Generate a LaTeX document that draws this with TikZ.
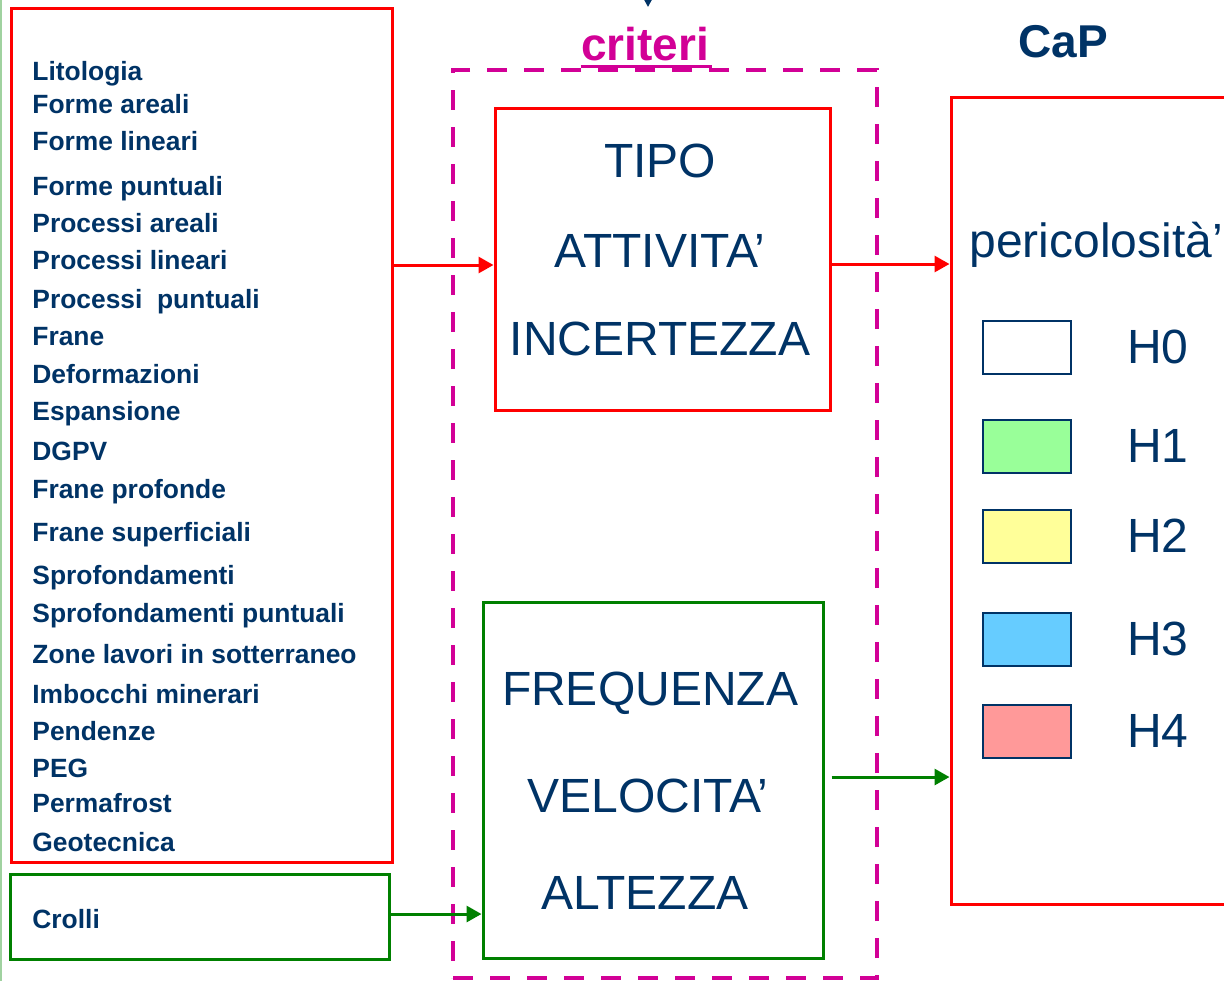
\documentclass[tikz,border=0pt]{standalone}
\usepackage{fontspec}
\setmainfont{Liberation Sans}
\usepackage{xcolor}
\usetikzlibrary{arrows.meta,positioning}

\definecolor{navy}{RGB}{0,51,102}
\definecolor{crit}{RGB}{210,0,150}
\definecolor{boxred}{RGB}{255,0,0}
\definecolor{boxgreen}{RGB}{0,128,0}
\definecolor{edgegreen}{RGB}{160,210,160}
\definecolor{hone}{RGB}{153,255,153}
\definecolor{htwo}{RGB}{255,255,153}
\definecolor{hthree}{RGB}{102,204,255}
\definecolor{hfour}{RGB}{255,153,153}

\begin{document}
\begin{tikzpicture}[
  x=0.5pt,y=-0.5pt,
  box/.style={draw,line width=1.5pt,inner sep=0pt},
  item/.style={anchor=base west,inner sep=0pt,text=navy,
    font=\fontsize{13.2}{15}\selectfont\bfseries},
  big/.style={anchor=base,inner sep=0pt,text=navy,
    font=\fontsize{24}{28}\selectfont},
  heading/.style={anchor=base,inner sep=0pt,
    font=\fontsize{23}{27}\selectfont\bfseries},
  swatch/.style={draw=navy,line width=1pt,inner sep=0pt,
    minimum width=44pt,minimum height=26.5pt},
  redarrow/.style={-{Triangle[length=7.5pt,width=8pt]},line width=1.5pt,boxred},
  greenarrow/.style={-{Triangle[length=7.5pt,width=8pt]},line width=1.5pt,boxgreen}
]
\useasboundingbox (0,0) rectangle (1224,981);
\clip (0,0) rectangle (1224,981);
\fill[white] (0,0) rectangle (1224,981);
\draw[edgegreen,line width=1pt] (1,0) -- (1,981);

% boxes
\node[box,draw=boxred,minimum width=190.5pt,minimum height=427pt] (lista) at (201.5,435) {};
\node[box,draw=boxgreen,minimum width=189.5pt,minimum height=42.5pt] (crolli) at (199.5,916.5) {};
\node[box,draw=crit,line width=2pt,dash pattern=on 10pt off 8.5pt,
  minimum width=212pt,minimum height=454pt] (criteri) at (665,524) {};
\node[box,draw=boxred,minimum width=167.5pt,minimum height=151pt] (tipo) at (662.5,259) {};
\node[box,draw=boxgreen,minimum width=170pt,minimum height=178pt] (freq) at (653,780) {};
\node[box,draw=boxred,minimum width=174.5pt,minimum height=403.5pt] (haz) at (1125.5,500.5) {};

% input list
\foreach \y/\t [count=\i] in {71/Litologia,104/Forme areali,141/Forme lineari,
  186/Forme puntuali,223/Processi areali,260/Processi lineari,
  299/Processi\ \ puntuali,336/Frane,374/Deformazioni,411/Espansione,451/DGPV,
  489/Frane profonde,532/Frane superficiali,575/Sprofondamenti,
  613/Sprofondamenti puntuali,654/Zone lavori in sotterraneo,
  694/Imbocchi minerari,731/Pendenze,768/PEG,803/Permafrost,842/Geotecnica}
  \node[item] (voce\i) at (32,\y+9) {\t};
\node[item] (crollitxt) at (32,928) {Crolli};

% titles
\node[heading,text=crit] (critlab) at (645,60) {criteri};
\draw[crit,line width=1.5pt] ([yshift=-3.2pt]critlab.base west) -- ([yshift=-3.2pt,xshift=1.5pt]critlab.base east);
\node[heading,text=navy] (caplab) at (1063,57) {CaP};

% criteria
\node[big] (tipo1) at (660,177) {TIPO};
\node[big] (tipo2) at (660,267) {ATTIVITA’};
\node[big] (tipo3) at (660,355) {INCERTEZZA};
\node[big] (freq1) at (650,705) {FREQUENZA};
\node[big] (freq2) at (648,812) {VELOCITA’};
\node[big] (freq3) at (645,909) {ALTEZZA};

% hazard classes
\node[big,anchor=base west] (perlab) at (969,257) {pericolosità’};
\foreach \y/\c/\h [count=\i] in {347/white/H0,446/hone/H1,536/htwo/H2,
  639/hthree/H3,731/hfour/H4}
{
  \node[swatch,fill=\c] (classe\i) at (1027,\y) {};
  \node[big] (hlab\i) at (1158,\y+16) {\h};
}

% connectors
\coordinate (sopra) at (648,-30);
\coordinate (punta) at (648,7);
\draw[-{Triangle[length=4pt,width=4pt]},navy,line width=1pt] (sopra) -- (punta);
\draw[redarrow] (lista.east |- 0,265) -- (tipo.west |- 0,265);
\draw[redarrow] (tipo.east |- 0,264) -- (haz.west |- 0,264);
\draw[greenarrow] (crolli.east |- 0,914) -- (freq.west |- 0,914);
\draw[greenarrow] ([xshift=3.5pt]freq.east |- 0,777) -- (haz.west |- 0,777);
\end{tikzpicture}
\end{document}
